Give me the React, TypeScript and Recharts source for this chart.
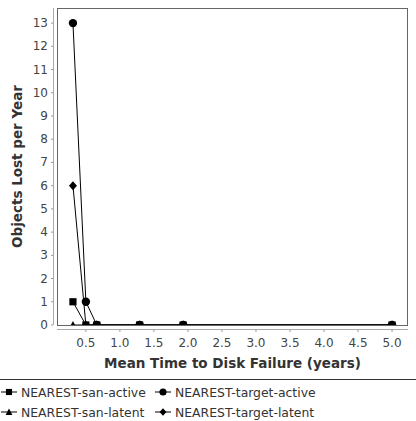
import React from "react";
import { LineChart, Line, XAxis, YAxis, Legend, Customized } from "recharts";

const mttfYears = [0.31, 0.5, 0.66, 1.29, 1.93, 5.0];
const sanActive = [1, 0, 0, 0, 0, 0];
const targetActive = [13, 1, 0, 0, 0, 0];
const sanLatent = [0, 0, 0, 0, 0, 0];
const targetLatent = [6, 0, 0, 0, 0, 0];

const xTicks = [0.5, 1.0, 1.5, 2.0, 2.5, 3.0, 3.5, 4.0, 4.5, 5.0];
const yTicks = [0, 1, 2, 3, 4, 5, 6, 7, 8, 9, 10, 11, 12, 13];

const xTitle = "Mean Time to Disk Failure (years)";
const yTitle = "Objects Lost per Year";

const seriesNames = [
  "NEAREST-san-active",
  "NEAREST-target-active",
  "NEAREST-san-latent",
  "NEAREST-target-latent",
];
const seriesKeys = ["sanActive", "targetActive", "sanLatent", "targetLatent"];
const seriesShapes = ["square", "circle", "triangle", "diamond"];

const data = mttfYears.map((x, i) => ({
  x,
  sanActive: sanActive[i],
  targetActive: targetActive[i],
  sanLatent: sanLatent[i],
  targetLatent: targetLatent[i],
}));

const W = 416;
const H = 421;
const PL = 57;
const PT = 8;
const PR = 408;
const PB = 325;
const LEGEND_H = 42;
const FONT = "'DejaVu Sans', sans-serif";

function Marker({ shape, cx, cy, s = 1 }: any) {
  if (cx == null || cy == null) return null;
  if (shape === "square")
    return <rect x={cx - 3.6 * s} y={cy - 3.6 * s} width={7.2 * s} height={7.2 * s} fill="#000" />;
  if (shape === "circle") return <circle cx={cx} cy={cy} r={4.2 * s} fill="#000" />;
  if (shape === "triangle")
    return (
      <polygon
        points={`${cx},${cy - 4 * s} ${cx + 4 * s},${cy + 3.5 * s} ${cx - 4 * s},${cy + 3.5 * s}`}
        fill="#000"
      />
    );
  return (
    <polygon
      points={`${cx},${cy - 4.5 * s} ${cx + 4 * s},${cy} ${cx},${cy + 4.5 * s} ${cx - 4 * s},${cy}`}
      fill="#000"
    />
  );
}

const makeDot = (shape: string) => (props: any) =>
  <Marker key={`${shape}-${props.index}`} shape={shape} cx={props.cx} cy={props.cy} />;

const YTick = (props: any) => {
  const { x, y, payload } = props;
  return (
    <g>
      <line x1={x - 6} x2={x - 4} y1={y} y2={y} stroke="#999" />
      <text
        x={x - 9}
        y={y}
        textAnchor="end"
        dominantBaseline="central"
        fontSize={12}
        fontFamily={FONT}
        fill="#444"
      >
        {payload.value}
      </text>
    </g>
  );
};

const XTick = (props: any) => {
  const { x, y, payload } = props;
  return (
    <g>
      <line x1={x} x2={x} y1={y + 4.5} y2={y + 7} stroke="#999" />
      <text
        x={x}
        y={y + 18}
        textAnchor="middle"
        dominantBaseline="central"
        fontSize={12}
        fontFamily={FONT}
        fill="#444"
      >
        {Number(payload.value).toFixed(1)}
      </text>
    </g>
  );
};

const Frame = () => (
  <g>
    <rect x={PL + 0.5} y={PT + 0.5} width={PR - PL - 1} height={PB - PT} fill="none" stroke="#666" />
    <line x1={53.5} x2={53.5} y1={PT} y2={PB} stroke="#aaa" />
    <line x1={PL} x2={PR} y1={329.5} y2={329.5} stroke="#aaa" />
    <text
      x={(PL + PR) / 2}
      y={363}
      textAnchor="middle"
      dominantBaseline="central"
      fontSize={13.5}
      fontWeight="bold"
      fontFamily={FONT}
      fill="#333"
    >
      {xTitle}
    </text>
    <text
      x={17}
      y={(PT + PB) / 2}
      textAnchor="middle"
      dominantBaseline="central"
      fontSize={13.5}
      fontWeight="bold"
      fontFamily={FONT}
      fill="#333"
      transform={`rotate(-90, 17, ${(PT + PB) / 2})`}
    >
      {yTitle}
    </text>
  </g>
);

const LegendContent = () => {
  const cols = [1, 155];
  const rows = [13, 33];
  return (
    <svg width={W} height={LEGEND_H} style={{ display: "block" }}>
      <line x1={0} x2={W} y1={0.5} y2={0.5} stroke="#333" />
      {seriesNames.map((name, i) => {
        const cx = cols[i % 2];
        const cy = rows[Math.floor(i / 2)];
        return (
          <g key={name}>
            <line x1={cx} x2={cx + 16} y1={cy} y2={cy} stroke="#000" />
            <Marker shape={seriesShapes[i]} cx={cx + 8} cy={cy} s={0.85} />
            <text
              x={cx + 20}
              y={cy}
              dominantBaseline="central"
              fontSize={12.4}
              fontFamily={FONT}
              fill="#333"
            >
              {name}
            </text>
          </g>
        );
      })}
    </svg>
  );
};

const renderOrder = [3, 2, 1, 0];

export default function App() {
  return (
    <div style={{ position: "absolute", left: 0, top: 0, width: W, height: H, background: "#fff" }}>
      <LineChart
        width={W}
        height={H}
        data={data}
        margin={{ top: PT, right: W - PR, bottom: 0, left: 0 }}
      >
        <Customized component={<Frame />} />
        <XAxis
          dataKey="x"
          type="number"
          domain={[0.0755, 5.2345]}
          ticks={xTicks}
          allowDataOverflow
          height={PB - 0 - (H - LEGEND_H - PB) * 0 > 0 ? H - LEGEND_H - PB : 54}
          axisLine={false}
          tickLine={false}
          tickSize={0}
          tickMargin={0}
          tick={<XTick />}
          interval={0}
        />
        <YAxis
          type="number"
          domain={[0, 13.65]}
          ticks={yTicks}
          allowDataOverflow
          width={PL}
          axisLine={false}
          tickLine={false}
          tickSize={0}
          tickMargin={0}
          tick={<YTick />}
          interval={0}
        />
        <Legend
          verticalAlign="bottom"
          align="left"
          content={<LegendContent />}
          wrapperStyle={{ left: 0, width: W, height: LEGEND_H, margin: 0, padding: 0 }}
        />
        {renderOrder.map((i) => (
          <Line
            key={seriesKeys[i]}
            dataKey={seriesKeys[i]}
            name={seriesNames[i]}
            stroke="#000"
            strokeWidth={1}
            isAnimationActive={false}
            dot={makeDot(seriesShapes[i])}
            activeDot={false}
            legendType="none"
          />
        ))}
      </LineChart>
    </div>
  );
}
